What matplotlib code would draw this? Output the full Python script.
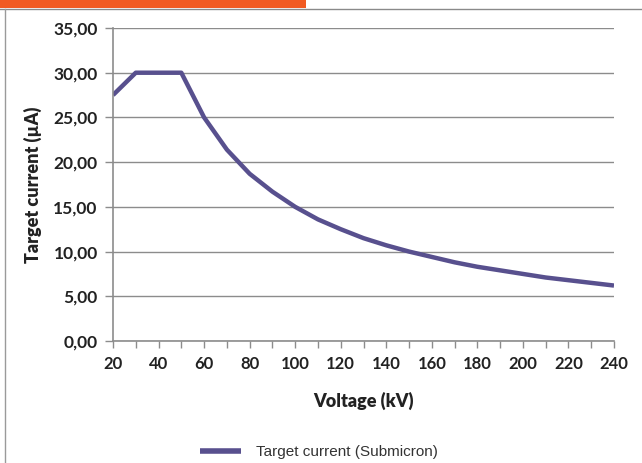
import matplotlib.pyplot as plt
from matplotlib.ticker import MultipleLocator, FuncFormatter
from matplotlib.lines import Line2D
from matplotlib.patches import Rectangle

# values
voltage = [20, 30, 40, 50, 60, 70, 80, 90, 100, 110, 120, 130, 140, 150, 160,
           170, 180, 190, 200, 210, 220, 230, 240]
current = [27.5, 30.0, 30.0, 30.0, 25.0, 21.4, 18.7, 16.7, 15.0, 13.6, 12.5,
           11.5, 10.7, 10.0, 9.4, 8.8, 8.3, 7.9, 7.5, 7.1, 6.8, 6.5, 6.2]
series_name = 'Target current (Submicron)'

fig = plt.figure(figsize=(6.42, 4.63), dpi=100)
fig.patch.set_facecolor('white')

# frame bits of the screenshot
fig.add_artist(Rectangle((0, 1 - 8 / 463), 306 / 642, 8 / 463, transform=fig.transFigure,
                         color='#f15a22', lw=0))
fig.add_artist(Line2D([0, 1], [1 - 8.5 / 463] * 2, transform=fig.transFigure, color='#8a8a8a', lw=1))
fig.add_artist(Line2D([4.5 / 642] * 2, [0, 1 - 8.5 / 463], transform=fig.transFigure, color='#9a9a9a', lw=1))

ax = fig.add_axes([113 / 642, 122 / 463, 501 / 642, 313 / 463])
ax.plot(voltage, current, color='#58508e', lw=3.2, solid_capstyle='butt', solid_joinstyle='round')

ax.set_xlim(20, 240)
ax.set_ylim(0, 35)
ax.xaxis.set_major_locator(MultipleLocator(20))
ax.xaxis.set_minor_locator(MultipleLocator(10))
ax.yaxis.set_major_locator(MultipleLocator(5))
ax.yaxis.set_major_formatter(FuncFormatter(lambda v, p: f'{v:.2f}'.replace('.', ',')))
ax.grid(axis='y', color='#8c8c8c', lw=1)
ax.set_axisbelow(True)

for s in ['top', 'right']:
    ax.spines[s].set_visible(False)
for s in ['left', 'bottom']:
    ax.spines[s].set_color('#8c8c8c')
    ax.spines[s].set_linewidth(1.2)

ax.tick_params(axis='both', which='both', color='#8c8c8c', width=1, direction='out')
ax.tick_params(axis='x', which='both', length=5, pad=6)
ax.tick_params(axis='y', length=6, pad=5)
for lbl in ax.get_xticklabels():
    lbl.set_fontfamily('Lato')
    lbl.set_fontweight('bold')
    lbl.set_fontsize(12)
    lbl.set_color('#222222')
for lbl in ax.get_yticklabels():
    lbl.set_fontfamily('Lato')
    lbl.set_fontweight('bold')
    lbl.set_fontsize(12.5)
    lbl.set_color('#222222')

ax.set_xlabel('Voltage (kV)', fontfamily='Lato', fontweight='heavy', fontsize=13,
              color='#222222', labelpad=14)
ax.set_ylabel('Target current (µA)', fontfamily='Lato', fontweight='heavy', fontsize=13,
              color='#222222', labelpad=8)

leg = ax.legend([series_name], loc='center left', bbox_to_anchor=(186 / 642, 11 / 463),
                bbox_transform=fig.transFigure, frameon=False, handlelength=2.7,
                handletextpad=1.0, prop={'family': 'Liberation Sans', 'size': 11})
leg.get_lines()[0].set_linewidth(4)
for t in leg.get_texts():
    t.set_color('#333333')

plt.savefig('out.png', dpi=100)
